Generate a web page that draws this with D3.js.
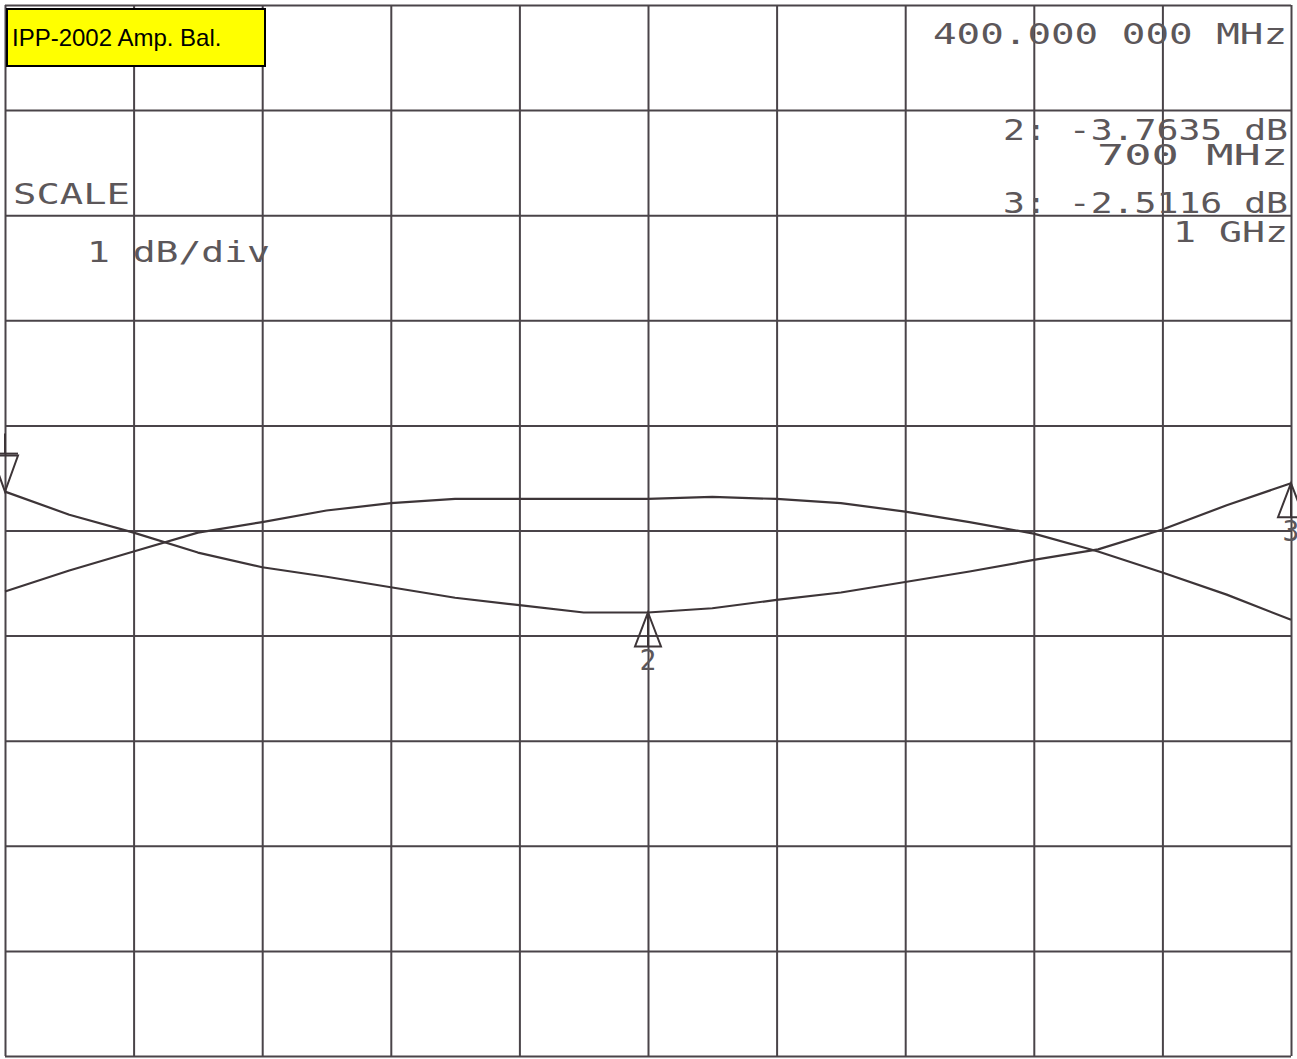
<!DOCTYPE html>
<html>
<head>
<meta charset="utf-8">
<script src="https://cdn.jsdelivr.net/npm/d3@7"></script>
<style>
  body { margin: 0; background: #fff; }
  .grid line { stroke: #4a4449; stroke-width: 2; }
  .grid path { display: none; }
  .readout { font-family: "DejaVu Sans Mono", monospace; font-size: 29px; fill: #5c575a; }
</style>
</head>
<body>
<div id="chart"></div>
<script>
// Frequency points (MHz) read every half division
var freqs = [400, 430, 460, 490, 520, 550, 580, 610, 640, 670, 700, 730, 760, 790, 820, 850, 880, 910, 940, 970, 1000];

// Trace 1 (dips in the middle, carries the markers), dB
var traceA = [-2.63, -2.85, -3.02, -3.21, -3.35, -3.44, -3.54, -3.64, -3.71, -3.78, -3.78, -3.74, -3.66, -3.59, -3.49, -3.39, -3.28, -3.18, -2.99, -2.76, -2.55];

// Trace 2 (bulges in the middle), dB
var traceB = [-3.58, -3.38, -3.20, -3.02, -2.92, -2.81, -2.74, -2.70, -2.70, -2.70, -2.70, -2.68, -2.70, -2.74, -2.82, -2.92, -3.03, -3.20, -3.40, -3.61, -3.85];

// Markers on trace 1
var markerFreqs = [400, 700, 1000];
var markerNames = ['1', '2', '3'];

// Grid ticks: 60 MHz/div, 1 dB/div
var xTicks = [400, 460, 520, 580, 640, 700, 760, 820, 880, 940, 1000];
var yTicks = [-8, -7, -6, -5, -4, -3, -2, -1, 0, 1, 2];

var dims = { width: 1297, height: 1059, left: 5, right: 1291, top: 5, bottom: 1056 };

var x = d3.scaleLinear().domain([400, 1000]).range([dims.left, dims.right]);
var y = d3.scaleLinear().domain([-8, 2]).range([dims.bottom, dims.top]);

var svg = d3.select('#chart').append('svg')
  .attr('width', dims.width)
  .attr('height', dims.height);

svg.append('rect').attr('width', dims.width).attr('height', dims.height).attr('fill', '#fff');

// Vertical grid lines
svg.append('g')
  .attr('class', 'grid')
  .attr('transform', 'translate(0,' + dims.bottom + ')')
  .call(d3.axisBottom(x).tickValues(xTicks).tickSize(-(dims.bottom - dims.top)).tickFormat(''));

// Horizontal grid lines
svg.append('g')
  .attr('class', 'grid')
  .attr('transform', 'translate(' + dims.left + ',0)')
  .call(d3.axisLeft(y).tickValues(yTicks).tickSize(-(dims.right - dims.left)).tickFormat(''));

// Traces
var line = d3.line()
  .x(function (d, i) { return x(freqs[i]); })
  .y(function (d) { return y(d); });

[traceA, traceB].forEach(function (t) {
  svg.append('path')
    .datum(t)
    .attr('d', line)
    .attr('fill', 'none')
    .attr('stroke', '#3d3538')
    .attr('stroke-width', 2.2)
    .attr('stroke-linejoin', 'round');
});

// Markers
markerFreqs.forEach(function (f, i) {
  var mx = x(f);
  var my = y(traceA[freqs.indexOf(f)]);
  var g = svg.append('g').attr('fill', 'none').attr('stroke', '#3d3538').attr('stroke-width', 2);
  if (i === 0) {
    // active marker: inverted triangle above the trace
    g.append('path').attr('d', 'M' + mx + ',' + my + 'L' + (mx - 13) + ',' + (my - 36) + 'L' + (mx + 13) + ',' + (my - 36) + 'Z');
    g.append('line').attr('x1', mx - 13).attr('x2', mx + 13).attr('y1', my - 38).attr('y2', my - 38);
    g.append('line').attr('x1', mx).attr('x2', mx).attr('y1', my - 38).attr('y2', my - 58);
  } else {
    g.append('path').attr('d', 'M' + mx + ',' + my + 'L' + (mx - 13) + ',' + (my + 34) + 'L' + (mx + 13) + ',' + (my + 34) + 'Z');
    g.append('line').attr('x1', mx).attr('x2', mx).attr('y1', my).attr('y2', my + 34);
    svg.append('text')
      .attr('class', 'readout')
      .attr('x', mx)
      .attr('y', my + 58)
      .attr('text-anchor', 'middle')
      .style('font-size', '28px')
      .text(markerNames[i]);
  }
});

// Instrument readouts
var readouts = [
  { t: '400.000 000 MHz', x: 933, y: 44, w: 354 },
  { t: '2: -3.7635 dB', x: 1003, y: 140, w: 285 },
  { t: '700 MHz', x: 1097, y: 165, w: 191 },
  { t: '3: -2.5116 dB', x: 1003, y: 213, w: 285 },
  { t: '1 GHz', x: 1173, y: 242, w: 115 },
  { t: 'SCALE', x: 13, y: 204, w: 117 },
  { t: '1 dB/div', x: 87, y: 262, w: 183 }
];

svg.selectAll('.ro')
  .data(readouts)
  .enter().append('text')
  .attr('class', 'readout ro')
  .attr('x', function (d) { return d.x; })
  .attr('y', function (d) { return d.y; })
  .attr('textLength', function (d) { return d.w; })
  .attr('lengthAdjust', 'spacingAndGlyphs')
  .text(function (d) { return d.t; });

// Title box
svg.append('rect')
  .attr('x', 7).attr('y', 9)
  .attr('width', 258).attr('height', 57)
  .attr('fill', '#ffff00')
  .attr('stroke', '#000')
  .attr('stroke-width', 2);

svg.append('text')
  .attr('x', 12).attr('y', 46)
  .style('font-family', 'Arial, "Liberation Sans", sans-serif')
  .style('font-size', '24px')
  .attr('fill', '#000')
  .text('IPP-2002 Amp. Bal.');
</script>
</body>
</html>
